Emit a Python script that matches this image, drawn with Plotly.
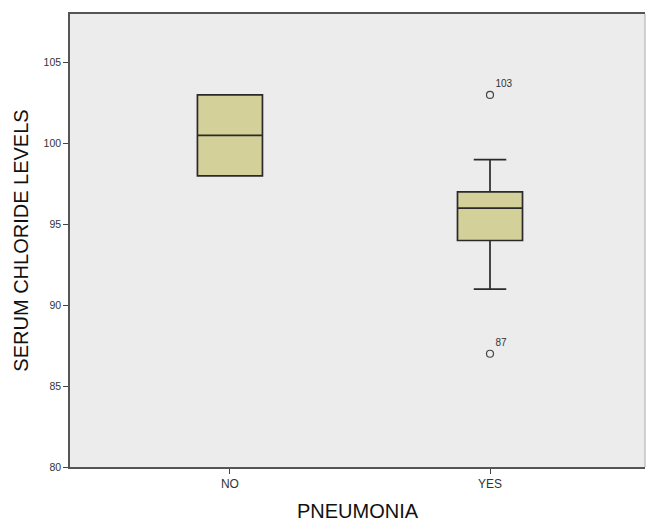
import plotly.graph_objects as go

# Data
categories = ["NO", "YES"]
cat_pos = [0, 1]
q1_vals = [98, 94]
median_vals = [100.5, 96]
q3_vals = [103, 97]
lower_whisker = [98, 91]
upper_whisker = [103, 99]
outlier_cat = [1, 1]
outlier_vals = [103, 87]
outlier_labels = ["103", "87"]
y_ticks = [80, 85, 90, 95, 100, 105]

FONT = "Liberation Sans, Arial, Helvetica"

fig = go.Figure()
fig.add_trace(go.Box(
    x=cat_pos, q1=q1_vals, median=median_vals, q3=q3_vals,
    lowerfence=lower_whisker, upperfence=upper_whisker,
    width=0.25, whiskerwidth=0.5,
    fillcolor="#D3D09A", line=dict(color="#2a2a2a", width=1.7),
    boxpoints=False, showlegend=False, hoverinfo="skip",
))
fig.add_trace(go.Scatter(
    x=outlier_cat, y=outlier_vals, mode="markers+text",
    text=outlier_labels, textposition="top right",
    textfont=dict(family=FONT, size=10, color="#333"),
    marker=dict(symbol="circle-open", size=7, color="#444", line=dict(width=1.2)),
    showlegend=False, hoverinfo="skip",
))

fig.update_layout(
    width=647, height=524,
    margin=dict(l=70, r=2, t=14, b=57),
    paper_bgcolor="white", plot_bgcolor="#ECECEC",
    font=dict(family=FONT, color="#222"),
    xaxis=dict(
        range=[-0.615, 1.596], tickvals=cat_pos, ticktext=categories,
        ticks="outside", ticklen=5, tickcolor="#444",
        tickfont=dict(size=12, color="#333"),
        showgrid=False, zeroline=False,
        showline=True, linecolor="#555", linewidth=1.5, mirror=True,
        title=dict(text="PNEUMONIA", font=dict(size=20, color="#111"), standoff=14),
    ),
    yaxis=dict(
        range=[80, 108], tickvals=y_ticks,
        ticks="outside", ticklen=5, tickcolor="#444",
        tickfont=dict(size=10.5, color="#333"),
        showgrid=False, zeroline=False,
        showline=True, linecolor="#555", linewidth=1.5,
        title=dict(text="SERUM CHLORIDE LEVELS", font=dict(size=20, color="#111"), standoff=10),
    ),
    shapes=[dict(type="line", xref="paper", yref="paper", x0=1, x1=1, y0=0, y1=1,
                 line=dict(color="#aaaaaa", width=1))],
)

fig.write_html("out.html", config={"displayModeBar": False},
               post_script="document.body.style.margin='0';")
